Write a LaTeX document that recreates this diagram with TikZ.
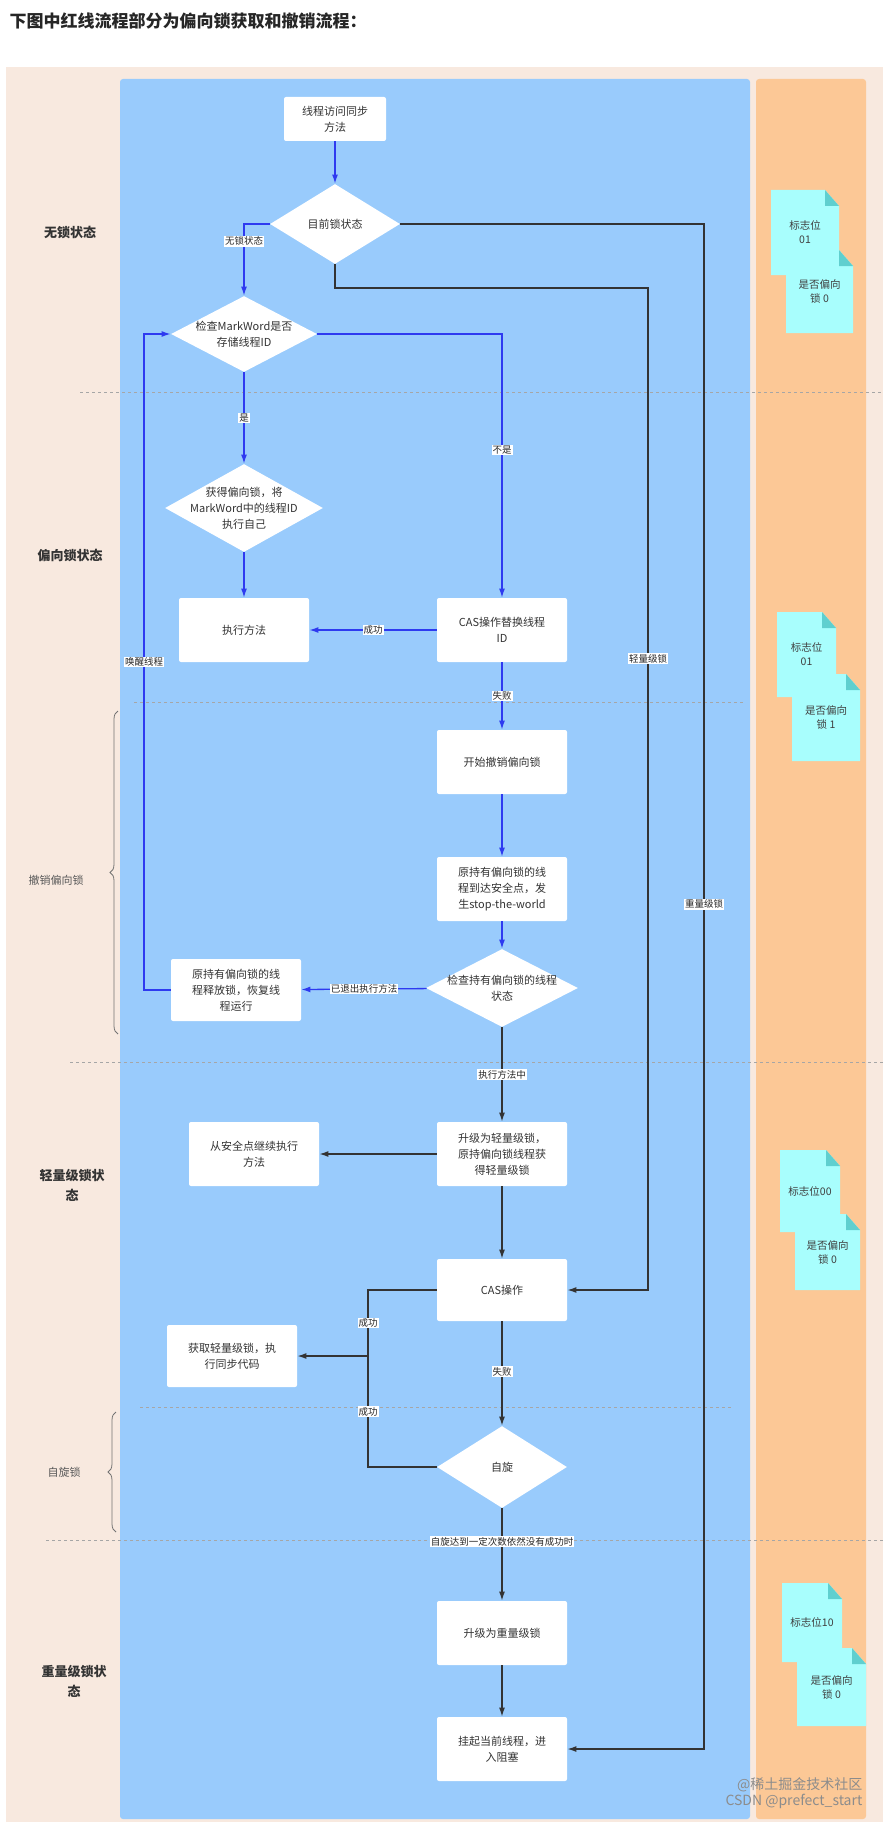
\documentclass[tikz,border=0pt]{standalone}
\usepackage{fontspec}
\setmainfont{Noto Sans CJK SC}
\usetikzlibrary{shapes.geometric,arrows.meta,decorations.pathreplacing}
\definecolor{bgbeige}{HTML}{F8E9DF}
\definecolor{panelblue}{HTML}{99CBFC}
\definecolor{panelorange}{HTML}{FCC896}
\definecolor{notecyan}{HTML}{A8FEFD}
\definecolor{notefold}{HTML}{5FCFCF}
\definecolor{flowblue}{HTML}{2E3AF0}
\definecolor{flowdark}{HTML}{333333}
\newcommand{\notecard}[5]{%
  \fill[notecyan] (#1,#2) -- (#3-14,#2) -- (#3,#2+16) -- (#3,#4) -- (#1,#4) -- cycle;
  \fill[notefold] (#3-14,#2) -- (#3,#2+16) -- (#3-14,#2+16) -- cycle;
  \node[font=\fontsize{10.5}{14}\selectfont, align=center, text=black!75] at ({(#1+#3)/2},{(#2+#4)/2}) {#5};}
\begin{document}
\begin{tikzpicture}[x=1pt, y=-1pt, thick]
        \tikzstyle{box}=[rectangle,fill=white,rounded corners=2pt,minimum width=130pt,minimum height=64pt,inner sep=2pt,align=center,text width=112pt,font=\fontsize{11}{16}\selectfont,text=black!80]
        \tikzstyle{cond}=[diamond,fill=white,inner sep=0pt]
        \tikzstyle{condtext}=[align=center,font=\fontsize{11}{16}\selectfont,text=black!80]
        \tikzstyle{lbl}=[fill=white,inner sep=1pt,font=\fontsize{9.5}{11}\selectfont,text=black!85]
        \tikzstyle{state}=[font=\bfseries\fontsize{13}{20}\selectfont,align=center,text=black!80]
        \tikzstyle{sub}=[font=\fontsize{11}{14}\selectfont,text=black!65]
        \tikzstyle{blueflow}=[draw=flowblue,line width=1.3pt,-{Latex[length=9pt,width=6pt]}]
        \tikzstyle{darkflow}=[draw=flowdark,line width=1.3pt,-{Latex[length=9pt,width=6pt]}]
        \tikzstyle{sep}=[draw=black!35,dashed,line width=0.7pt]
        \useasboundingbox (0,0) rectangle (883,1822);

        % backgrounds
        \fill[white] (0,0) rectangle (883,1822);
        \fill[bgbeige] (6,67) rectangle (883,1822);
        \fill[panelblue,rounded corners=3pt] (120,79) rectangle (750,1819);
        \fill[panelorange,rounded corners=3pt] (756,79) rectangle (866,1819);
        \node[anchor=west,font=\bfseries\fontsize{17}{20}\selectfont,text=black!85] (title) at (6,21) {下图中红线流程部分为偏向锁获取和撤销流程：};

        % separators
        \draw[sep] (80,392) -- (883,392);
        \draw[sep] (134,702) -- (744,702);
        \draw[sep] (70,1062) -- (883,1062);
        \draw[sep] (140,1407) -- (732,1407);
        \draw[sep] (46,1540) -- (883,1540);

        % states
        \node[state] (nolock) at (70,232) {无锁状态};
        \node[state] (biased) at (70,555) {偏向锁状态};
        \node[sub] (revoke) at (56,880) {撤销偏向锁};
        \node[state] (light) at (72,1185) {轻量级锁状\\态};
        \node[sub] (spinlock) at (64,1472) {自旋锁};
        \node[state] (heavy) at (74,1681) {重量级锁状\\态};
        \draw[black!55,line width=0.8pt,decorate,decoration={brace,amplitude=8pt}] (118,1034) -- (118,711);
        \draw[black!55,line width=0.8pt,decorate,decoration={brace,amplitude=8pt}] (116,1532) -- (116,1412);

        % nodes
        \node[box,minimum width=102pt,minimum height=44pt,text width=90pt] (start) at (335,119) {线程访问同步\\方法};
        \node[cond,minimum width=130pt,minimum height=80pt] (cur) at (335,224) {};
        \node[condtext] at (cur) {目前锁状态};
        \node[cond,minimum width=146pt,minimum height=76pt] (check) at (244,334) {};
        \node[condtext] at (check) {检查MarkWord是否\\存储线程ID};
        \node[cond,minimum width=158pt,minimum height=88pt] (get) at (244,508) {};
        \node[condtext] at (get) {获得偏向锁，将\\MarkWord中的线程ID\\执行自己};
        \node[box] (exec) at (244,630) {执行方法};
        \node[box] (cas1) at (502,630) {CAS操作替换线程\\ID};
        \node[box] (revstart) at (502,762) {开始撤销偏向锁};
        \node[box] (safe) at (502,889) {原持有偏向锁的线\\程到达安全点，发\\生stop-the-world};
        \node[cond,minimum width=152pt,minimum height=78pt] (hold) at (502,988) {};
        \node[condtext] at (hold) {检查持有偏向锁的线程\\状态};
        \node[box,minimum height=62pt] (release) at (236,990) {原持有偏向锁的线\\程释放锁，恢复线\\程运行};
        \node[box] (uplight) at (502,1154) {升级为轻量级锁，\\原持偏向锁线程获\\得轻量级锁};
        \node[box] (resume) at (254,1154) {从安全点继续执行\\方法};
        \node[box,minimum height=62pt] (cas2) at (502,1290) {CAS操作};
        \node[box,minimum height=62pt] (acq) at (232,1356) {获取轻量级锁，执\\行同步代码};
        \node[cond,minimum width=130pt,minimum height=82pt] (spin) at (502,1467) {};
        \node[condtext] at (spin) {自旋};
        \node[box] (upheavy) at (502,1633) {升级为重量级锁};
        \node[box] (block) at (502,1749) {挂起当前线程，进\\入阻塞};

        % blue flow
        \draw[blueflow] (start) -- (cur);
        \draw[blueflow] (cur.west) -| node[lbl,pos=0.62] {无锁状态} (check.north);
        \draw[blueflow] (check) -- node[lbl,pos=0.5] {是} (get);
        \draw[blueflow] (check.east) -| node[lbl,pos=0.72] {不是} (cas1.north);
        \draw[blueflow] (get) -- (exec);
        \draw[blueflow] (cas1) -- node[lbl] {成功} (exec);
        \draw[blueflow] (cas1) -- node[lbl,pos=0.5] {失败} (revstart);
        \draw[blueflow] (revstart) -- (safe);
        \draw[blueflow] (safe) -- (hold);
        \draw[blueflow] (hold) -- node[lbl] {已退出执行方法} (release);
        \coordinate (wakeA) at (144,990);
        \coordinate (wakeB) at (144,334);
        \draw[blueflow] (release.west) -- (wakeA) -- node[lbl,pos=0.5] {唤醒线程} (wakeB) -- (check.west);

        % dark flow
        \draw[darkflow] (hold) -- node[lbl,pos=0.5] {执行方法中} (uplight);
        \draw[darkflow] (uplight) -- (resume);
        \draw[darkflow] (uplight) -- (cas2);
        \coordinate (lightA) at (335,288);
        \coordinate (lightB) at (648,288);
        \coordinate (lightC) at (648,1290);
        \draw[darkflow] (cur.south) -- (lightA) -- (lightB) -- node[lbl,pos=0.37] {轻量级锁} (lightC) -- (cas2.east);
        \coordinate (heavyA) at (704,224);
        \coordinate (heavyB) at (704,1749);
        \draw[darkflow] (cur.east) -- (heavyA) -- node[lbl,pos=0.446] {重量级锁} (heavyB) -- (block.east);
        \coordinate (succA) at (368,1290);
        \coordinate (succB) at (368,1356);
        \coordinate (succC) at (368,1467);
        \draw[draw=flowdark,line width=1.3pt] (cas2.west) -- (succA) -- node[lbl,pos=0.5] {成功} (succB) -- node[lbl,pos=0.5] {成功} (succC) -- (spin.west);
        \draw[darkflow] (succB) -- (acq);
        \draw[darkflow] (cas2) -- node[lbl,pos=0.48] {失败} (spin);
        \draw[darkflow] (spin) -- node[lbl,pos=0.36] {自旋达到一定次数依然没有成功时} (upheavy);
        \draw[darkflow] (upheavy) -- (block);

        % notes
        \notecard{771}{190}{839}{275}{标志位\\01}
        \notecard{786}{250}{853}{333}{是否偏向\\锁 0}
        \notecard{777}{612}{836}{697}{标志位\\01}
        \notecard{792}{674}{860}{761}{是否偏向\\锁 1}
        \notecard{780}{1150}{840}{1232}{标志位00}
        \notecard{795}{1214}{860}{1290}{是否偏向\\锁 0}
        \notecard{782}{1583}{842}{1662}{标志位10}
        \notecard{797}{1648}{866}{1726}{是否偏向\\锁 0}

        % watermark
        \node[align=right,anchor=east,font=\fontsize{14}{16}\selectfont,text=black!45] (mark) at (866,1793) {@稀土掘金技术社区\\CSDN @prefect\_start};
    \end{tikzpicture}
\end{document}
